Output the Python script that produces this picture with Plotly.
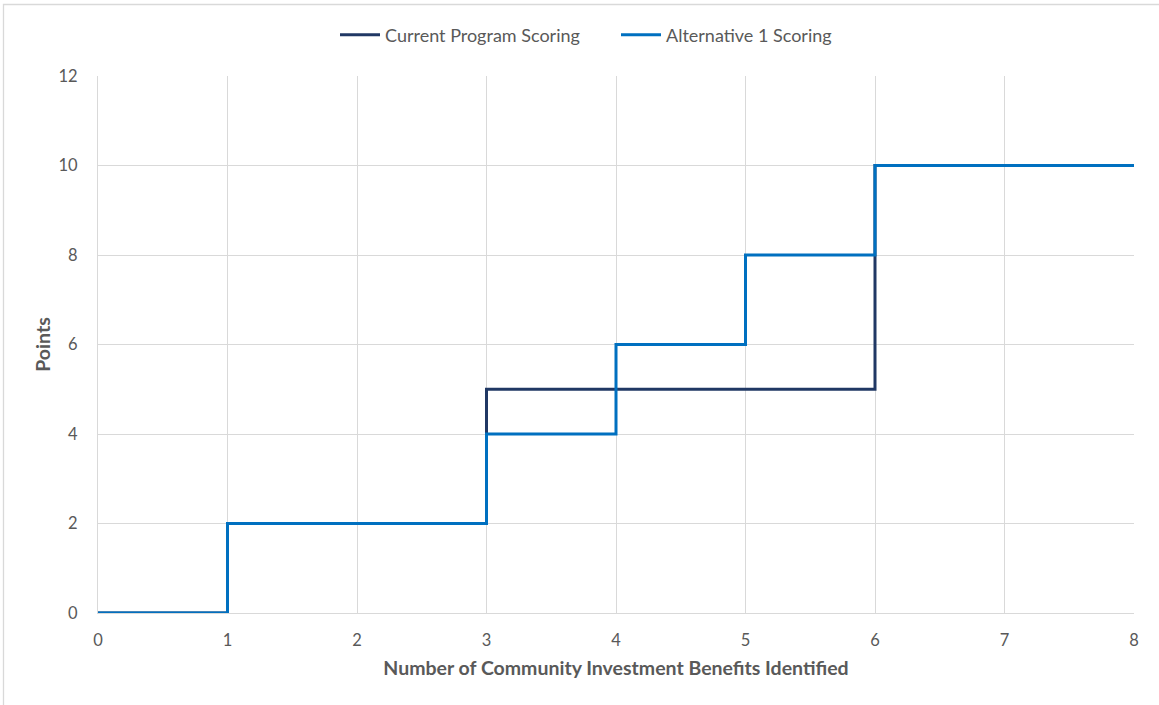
import plotly.graph_objects as go

# Scoring schedules: points earned by number of benefits identified
current_x = [0, 1, 3, 6, 8]
current_y = [0, 2, 5, 10, 10]
alt_x = [0, 1, 3, 4, 5, 6, 8]
alt_y = [0, 2, 4, 6, 8, 10, 10]

x_ticks = [0, 1, 2, 3, 4, 5, 6, 7, 8]
y_ticks = [0, 2, 4, 6, 8, 10, 12]

FONT = "Lato, 'Open Sans', sans-serif"
TICK_COLOR = "#595959"
GRID = "#d9d9d9"

fig = go.Figure()
fig.add_trace(go.Scatter(
    x=current_x, y=current_y, mode="lines", line_shape="hv",
    name="Current Program Scoring",
    line=dict(color="#203864", width=3),
))
fig.add_trace(go.Scatter(
    x=alt_x, y=alt_y, mode="lines", line_shape="hv",
    name="Alternative 1 Scoring",
    line=dict(color="#0070C0", width=3),
))

W, H = 1159, 705
L, R, T, B = 98, 25, 76, 92
pw, ph = W - L - R, H - T - B

# light outer frame around the chart area
fig.add_shape(
    type="rect", xref="paper", yref="paper", layer="below",
    x0=(3.5 - L) / pw, x1=(W + 10 - L) / pw,
    y0=-(B + 10) / ph, y1=(H - B - 4.5) / ph,
    line=dict(color="#d9d9d9", width=1.3),
)

fig.update_layout(
    width=W, height=H,
    margin=dict(l=L, r=R, t=T, b=B),
    paper_bgcolor="white", plot_bgcolor="white",
    font=dict(family=FONT, color=TICK_COLOR, size=16),
    showlegend=True,
    legend=dict(
        orientation="h", x=0.5, xanchor="center",
        y=(H - B - 35) / ph, yanchor="middle",
        font=dict(size=18, color=TICK_COLOR),
        itemwidth=40, entrywidth=226, entrywidthmode="pixels",
    ),
    xaxis=dict(
        range=[0, 8], tickvals=x_ticks, ticktext=[str(v) for v in x_ticks],
        showgrid=True, gridcolor=GRID, gridwidth=1.3,
        zeroline=False, showline=True, linecolor=GRID, linewidth=1.3,
        ticks="", ticklabelstandoff=12,
        tickfont=dict(size=16.5, color=TICK_COLOR),
        title=dict(
            text="<b>Number of Community Investment Benefits Identified</b>",
            font=dict(size=19.5, color=TICK_COLOR), standoff=12,
        ),
    ),
    yaxis=dict(
        range=[0, 12], tickvals=y_ticks, ticktext=[str(v) for v in y_ticks],
        showgrid=True, gridcolor=GRID, gridwidth=1.3,
        zeroline=False, showline=True, linecolor=GRID, linewidth=1.3,
        ticks="", ticklabelstandoff=16,
        tickfont=dict(size=16.5, color=TICK_COLOR),
        title=dict(
            text="<b>Points</b>",
            font=dict(size=19.5, color=TICK_COLOR), standoff=2,
        ),
    ),
)

fig.write_html("out.html")
